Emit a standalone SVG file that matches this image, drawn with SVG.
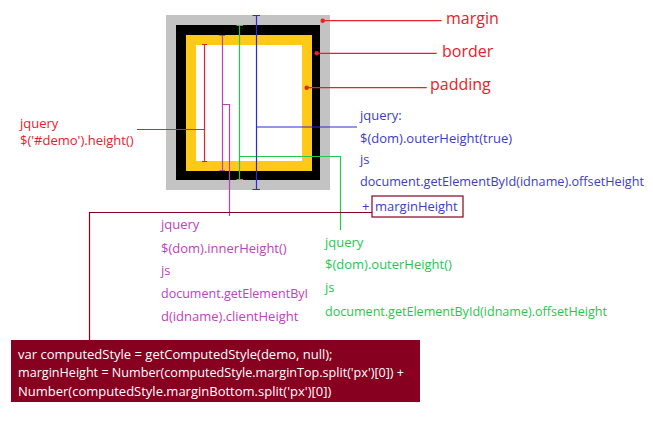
<svg xmlns="http://www.w3.org/2000/svg" width="653" height="421" viewBox="0 0 653 421">
<style>
text{font-family:"Open Sans","Noto Sans","DejaVu Sans",sans-serif;font-size:13px}
.big{font-size:16px;fill:#e8202a}
.red{fill:#e8202a}
.blue{fill:#3c3cc8}
.pur{fill:#c040c0}
.grn{fill:#1ec850}
.wht{fill:#ffffff}
.ln{fill:none;stroke-width:1.2}
</style>
<rect width="653" height="421" fill="#ffffff"/>
<g id="box-model">
<rect x="166" y="15" width="164" height="175" fill="#c3c3c3"/>
<rect x="176" y="25" width="144" height="155" fill="#000000"/>
<rect x="186" y="35" width="126" height="136" fill="#ffc91a"/>
<rect x="196" y="45" width="106" height="116" fill="#ffffff"/>
</g>
<g id="connectors" class="ln">
<path d="M204.5 44.5V161.5M202 44.5H207M202 161.5H207M137 129.5H204.5" stroke="#e8202a"/>
<path d="M222.5 35.5V170.5M219.5 35.5H225M219.5 170.5H225M222.5 104.5H229.5V216" stroke="#b840b8"/>
<path d="M239.5 25.5V179.5M236.5 25.5H243M236.5 179.5H243M239.5 156.5H340.5V230" stroke="#22c84a"/>
<path d="M256.5 15.5V189.5M252.5 15.5H260M252.5 189.5H260M256.5 127H357" stroke="#2a2ad8"/>
<path d="M372 212.5H89.5V340" stroke="#880020"/>
<path d="M322.7 20.7H441.7M316.7 53.3H436.7M306.7 87.7H426.7" stroke="#e8202a"/>
<g fill="#e8202a" stroke="none">
<circle cx="322.7" cy="20.7" r="2.2"/>
<circle cx="316.7" cy="53.3" r="2.2"/>
<circle cx="306.7" cy="87.7" r="2.2"/>
</g>
</g>
<g id="label-margin"><text class="big" x="446" y="24">margin</text></g>
<g id="label-border"><text class="big" x="442" y="57">border</text></g>
<g id="label-padding"><text class="big" x="430" y="90">padding</text></g>
<g id="note-height">
<text class="red" x="20" y="128">jquery</text>
<text class="red" x="20" y="145">$('#demo').height()</text>
</g>
<g id="note-outer-true">
<text class="blue" x="360" y="120">jquery:</text>
<text class="blue" x="360" y="143">$(dom).outerHeight(true)</text>
<text class="blue" x="360" y="164">js</text>
<text class="blue" x="360" y="186" textLength="284" lengthAdjust="spacingAndGlyphs">document.getElementById(idname).offsetHeight</text>
<text class="blue" x="362" y="211">+</text>
</g>
<g id="margin-height-box">
<rect x="372" y="196" width="91" height="21" fill="#ffffff" stroke="#880020" stroke-width="1.2"/>
<text class="blue" x="375" y="211">marginHeight</text>
</g>
<g id="note-inner">
<text class="pur" x="161" y="229">jquery</text>
<text class="pur" x="161" y="253">$(dom).innerHeight()</text>
<text class="pur" x="161" y="275">js</text>
<text class="pur" x="161" y="298" textLength="147" lengthAdjust="spacingAndGlyphs">document.getElementByI</text>
<text class="pur" x="161" y="321">d(idname).clientHeight</text>
</g>
<g id="note-outer">
<text class="grn" x="325" y="247">jquery</text>
<text class="grn" x="325" y="269">$(dom).outerHeight()</text>
<text class="grn" x="325" y="292">js</text>
<text class="grn" x="325" y="316" textLength="282" lengthAdjust="spacingAndGlyphs">document.getElementById(idname).offsetHeight</text>
</g>
<g id="code-box">
<rect x="11" y="340" width="409" height="62" fill="#880020"/>
<text class="wht" x="18" y="359">var computedStyle = getComputedStyle(demo, null);</text>
<text class="wht" x="18" y="377" textLength="386" lengthAdjust="spacingAndGlyphs">marginHeight = Number(computedStyle.marginTop.split('px')[0]) +</text>
<text class="wht" x="18" y="396">Number(computedStyle.marginBottom.split('px')[0])</text>
</g>
</svg>
